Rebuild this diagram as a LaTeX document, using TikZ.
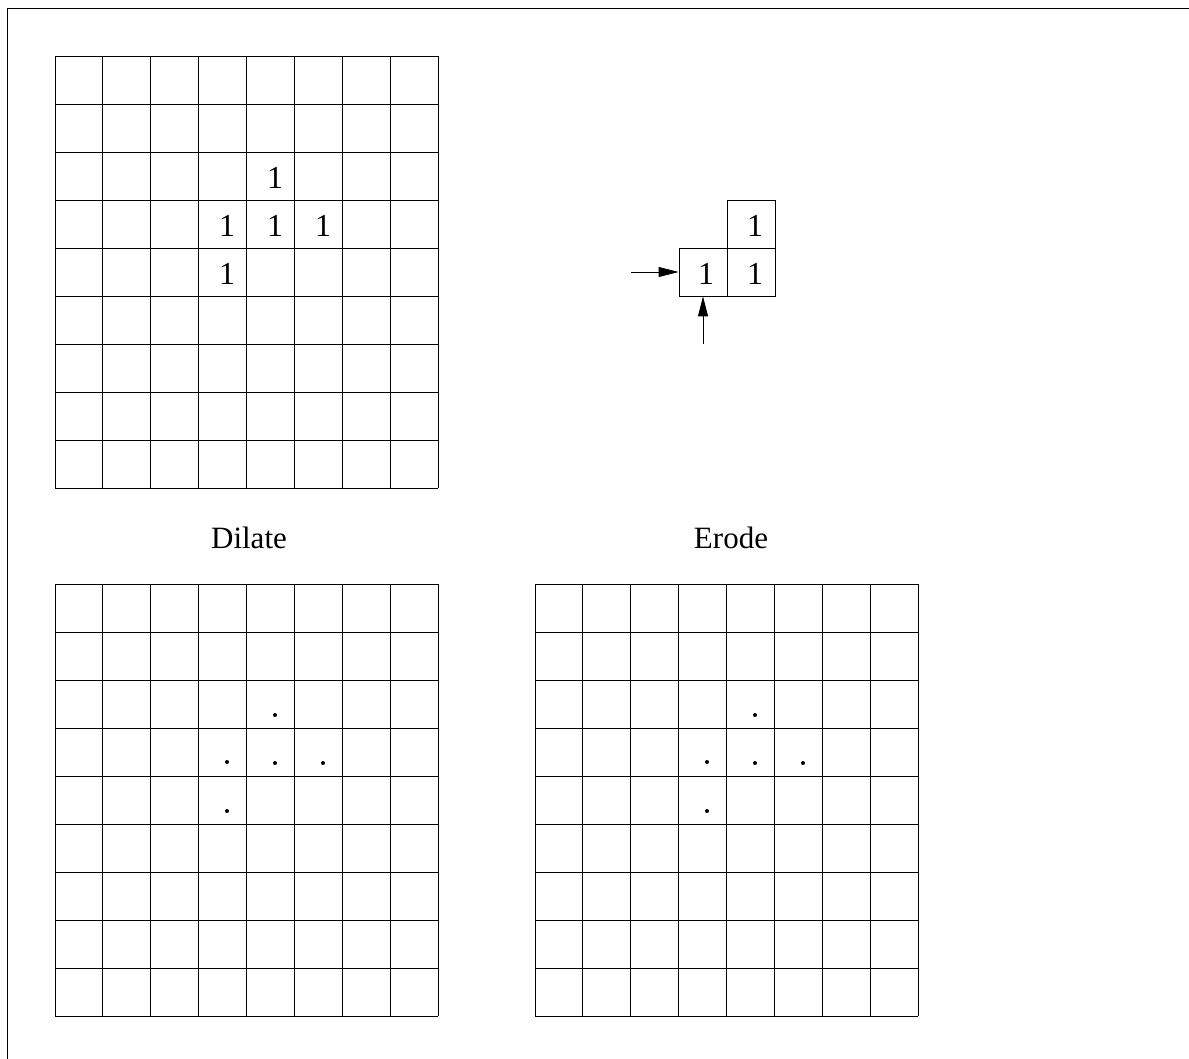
\documentclass[tikz,border=0pt]{standalone}
\usepackage{fontspec}
\setmainfont{Liberation Serif}
\usetikzlibrary{arrows.meta}
\begin{document}
\begin{tikzpicture}[x=1pt,y=-1pt,line width=0.8pt,
  gridline/.style={line width=0.8pt},
  numtext/.style={font=\fontsize{32}{32}\selectfont,anchor=base,inner sep=0pt},
  dotmark/.style={circle,fill=black,inner sep=0pt,minimum size=4pt},
  cellbox/.style={draw,minimum size=48pt,inner sep=0pt,line width=0.8pt},
  titletext/.style={font=\fontsize{31}{31}\selectfont,inner sep=0pt},
  pointer/.style={line width=0.8pt,-{Triangle[length=20pt,width=10pt]}}]
\useasboundingbox (0,0) rectangle (1189,1059);
% frame
\draw (7,1059) -- (7,8) -- (1189,8);
% grids
\foreach \ox/\oy in {55/56,55/584,535/584}{
  \foreach \i in {0,...,8} \draw[gridline] (\ox+\i*47.875,\oy) -- (\ox+\i*47.875,\oy+432);
  \foreach \j in {0,...,9} \draw[gridline] (\ox,\oy+\j*48) -- (\ox+383,\oy+\j*48);
}
% numbers in top grid
\node[numtext] (n1) at (275,189) {1};
\node[numtext] (n2) at (227,237) {1};
\node[numtext] (n3) at (275,237) {1};
\node[numtext] (n4) at (323,237) {1};
\node[numtext] (n5) at (227,285) {1};
% structuring element
\node[cellbox] (s1) at (703,272) {};
\node[cellbox] (s2) at (751,272) {};
\node[cellbox] (s3) at (751,224) {};
\node[numtext] (t1) at (706,285) {1};
\node[numtext] (t2) at (755,285) {1};
\node[numtext] (t3) at (755,237) {1};
\coordinate (ha) at (631,272);
\coordinate (va) at (703,344);
\draw[pointer] (ha) -- (s1.west);
\draw[pointer] (va) -- (s1.south);
% titles
\node[titletext] (dil) at (249,538) {Dilate};
\node[titletext] (ero) at (731,538) {Erode};
% dots
\foreach \ox [count=\k] in {0,480}{
  \node[dotmark] (da\k) at (275+\ox,715) {};
  \node[dotmark] (db\k) at (227+\ox,762) {};
  \node[dotmark] (dc\k) at (275+\ox,763) {};
  \node[dotmark] (dd\k) at (323+\ox,763) {};
  \node[dotmark] (de\k) at (227+\ox,811) {};
}
\end{tikzpicture}
\end{document}
